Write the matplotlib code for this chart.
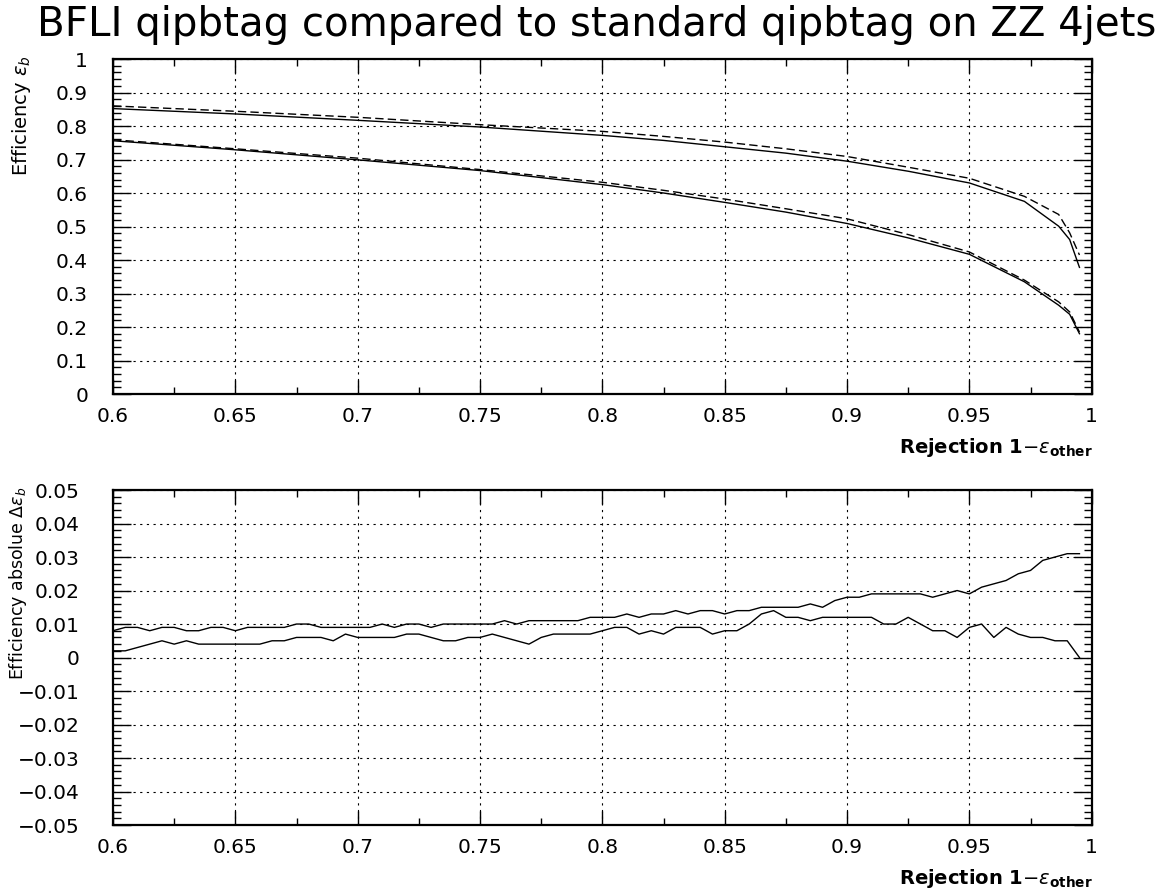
import numpy as np
import matplotlib
matplotlib.use('Agg')
import matplotlib.pyplot as plt
from matplotlib.ticker import MultipleLocator, FuncFormatter

plt.rcParams['font.family'] = ['DejaVu Sans']
plt.rcParams['mathtext.fontset'] = 'dejavusans'

# efficiency curves (top panel)
x_top = [0.6, 0.65, 0.7, 0.75, 0.8, 0.825, 0.85, 0.875, 0.9, 0.925, 0.95,
         0.9725, 0.9865, 0.991, 0.995]
hi_solid = [0.852, 0.836, 0.817, 0.797, 0.772, 0.757, 0.738, 0.719, 0.695,
            0.665, 0.630, 0.575, 0.501, 0.461, 0.378]
hi_dashed = [0.860, 0.844, 0.826, 0.804, 0.784, 0.769, 0.752, 0.732, 0.709,
             0.677, 0.644, 0.590, 0.536, 0.481, 0.415]
lo_solid = [0.756, 0.729, 0.699, 0.667, 0.625, 0.600, 0.572, 0.543, 0.509,
            0.466, 0.417, 0.335, 0.265, 0.238, 0.180]
lo_dashed = [0.759, 0.732, 0.704, 0.670, 0.632, 0.608, 0.582, 0.553, 0.523,
             0.476, 0.424, 0.340, 0.275, 0.245, 0.185]

# absolute differences (bottom panel), one point every 0.005 in rejection
x_diff = np.arange(80) * 0.005 + 0.6
diff_hi = [0.008, 0.009, 0.009, 0.008, 0.009, 0.009, 0.008, 0.008, 0.009, 0.009,
           0.008, 0.009, 0.009, 0.009, 0.009, 0.010, 0.010, 0.009, 0.009, 0.009,
           0.009, 0.009, 0.010, 0.009, 0.010, 0.010, 0.009, 0.010, 0.010, 0.010,
           0.010, 0.010, 0.011, 0.010, 0.011, 0.011, 0.011, 0.011, 0.011, 0.012,
           0.012, 0.012, 0.013, 0.012, 0.013, 0.013, 0.014, 0.013, 0.014, 0.014,
           0.013, 0.014, 0.014, 0.015, 0.015, 0.015, 0.015, 0.016, 0.015, 0.017,
           0.018, 0.018, 0.019, 0.019, 0.019, 0.019, 0.019, 0.018, 0.019, 0.020,
           0.019, 0.021, 0.022, 0.023, 0.025, 0.026, 0.029, 0.030, 0.031, 0.031]
diff_lo = [0.002, 0.002, 0.003, 0.004, 0.005, 0.004, 0.005, 0.004, 0.004, 0.004,
           0.004, 0.004, 0.004, 0.005, 0.005, 0.006, 0.006, 0.006, 0.005, 0.007,
           0.006, 0.006, 0.006, 0.006, 0.007, 0.007, 0.006, 0.005, 0.005, 0.006,
           0.006, 0.007, 0.006, 0.005, 0.004, 0.006, 0.007, 0.007, 0.007, 0.007,
           0.008, 0.009, 0.009, 0.007, 0.008, 0.007, 0.009, 0.009, 0.009, 0.007,
           0.008, 0.008, 0.010, 0.013, 0.014, 0.012, 0.012, 0.011, 0.012, 0.012,
           0.012, 0.012, 0.012, 0.010, 0.010, 0.012, 0.010, 0.008, 0.008, 0.006,
           0.009, 0.010, 0.006, 0.009, 0.007, 0.006, 0.006, 0.005, 0.005, 0.000]


def fmt(v, pos):
    v = round(v, 6)
    if v == 0:
        return '0'
    return ('%g' % v).replace('-', '\u2212')


def style_axes(ax, ymajor, yminor, ypad):
    ax.set_xlim(0.6, 1.0)
    ax.xaxis.set_major_locator(MultipleLocator(0.05))
    ax.xaxis.set_minor_locator(MultipleLocator(0.025))
    ax.yaxis.set_major_locator(MultipleLocator(ymajor))
    ax.yaxis.set_minor_locator(MultipleLocator(yminor))
    ax.xaxis.set_major_formatter(FuncFormatter(fmt))
    ax.yaxis.set_major_formatter(FuncFormatter(fmt))
    ax.tick_params(which='both', direction='in', top=True, right=True,
                   width=1.0, labelsize=14.5)
    ax.tick_params(axis='x', which='major', length=10, pad=9)
    ax.tick_params(axis='x', which='minor', length=5)
    ax.tick_params(axis='y', which='major', length=13, pad=ypad)
    ax.tick_params(axis='y', which='minor', length=6)
    for s in ax.spines.values():
        s.set_linewidth(1.6)
    ax.grid(True, which='major', color='black', linestyle=(0, (2, 4)),
            linewidth=0.8)
    ax.set_axisbelow(True)


fig = plt.figure(figsize=(11.75, 8.9), dpi=100)
ax1 = fig.add_axes([0.0962, 0.5573, 0.8329, 0.3764])
ax2 = fig.add_axes([0.0962, 0.0730, 0.8329, 0.3764])

ax1.plot(x_top, hi_solid, color='black', lw=1.0)
ax1.plot(x_top, hi_dashed, color='black', lw=1.0, linestyle=(0, (6, 3)))
ax1.plot(x_top, lo_solid, color='black', lw=1.0)
ax1.plot(x_top, lo_dashed, color='black', lw=1.0, linestyle=(0, (6, 3)))
ax1.set_ylim(0, 1)
style_axes(ax1, 0.1, 0.02, 18)

ax2.plot(x_diff, diff_hi, color='black', lw=1.0)
ax2.plot(x_diff, diff_lo, color='black', lw=1.0)
ax2.set_ylim(-0.05, 0.05)
style_axes(ax2, 0.01, 0.002, 24)

fig.text(0.508, 0.972, 'BFLI qipbtag compared to standard qipbtag on ZZ 4jets',
         ha='center', va='center', fontsize=29)

fig.text(0.930, 0.497, r'Rejection 1$-\varepsilon_{\mathbf{other}}$',
         ha='right', va='center', fontsize=14, fontweight='bold')
fig.text(0.930, 0.013, r'Rejection 1$-\varepsilon_{\mathbf{other}}$',
         ha='right', va='center', fontsize=14, fontweight='bold')

fig.text(0.018, 0.938, r'Efficiency $\varepsilon_b$', rotation=90,
         ha='center', va='top', fontsize=14)
fig.text(0.015, 0.453, r'Efficiency absolue $\Delta\varepsilon_b$', rotation=90,
         ha='center', va='top', fontsize=12.5)

fig.savefig('out.png', dpi=100)
